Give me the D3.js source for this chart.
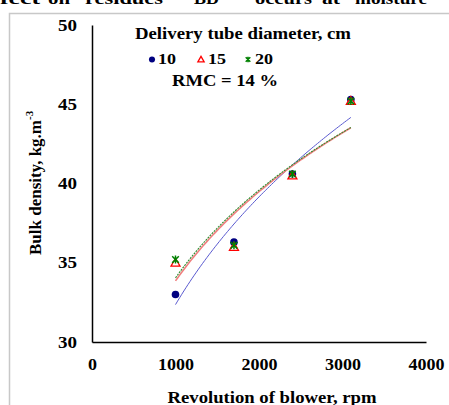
<!DOCTYPE html>
<html><head><meta charset="utf-8">
<script src="https://cdn.jsdelivr.net/npm/d3@7"></script>
<style>body{margin:0;background:#fff}svg{display:block}svg text{font-family:"Liberation Serif",Tinos,"Times New Roman",Times,serif !important;font-weight:bold;fill:#000}</style>
</head><body>
<script>
const rpm = [1000, 1700, 2400, 3100];
const series10 = [33.0, 36.3, 40.6, 45.3];
const series15 = [35.0, 36.0, 40.5, 45.2];
const series20 = [35.2, 36.1, 40.6, 45.2];
const seriesNames = ["10", "15", "20"];
const xTicks = [0, 1000, 2000, 3000, 4000];
const yTicks = [30, 35, 40, 45, 50];
const topWords = ["fect", "on", "residues", "\u201CBD\u201D", "occurs", "at", "moisture"];

const W = 449, H = 405;
const svg = d3.select("body").append("svg").attr("width", W).attr("height", H);

// cropped caption text at the top
const wordPos = [[0,40],[48,70],[85,163],[185,228],[255,312],[322,340],[355,427]];
topWords.forEach((w, i) => {
  svg.append("text").attr("x", wordPos[i][0]).attr("y", 4).attr("font-size", 17)
    .attr("textLength", wordPos[i][1] - wordPos[i][0]).attr("lengthAdjust", "spacingAndGlyphs").text(w);
});

// frame
svg.append("path").attr("d", "M9.5,405V13.5H449").attr("fill", "none").attr("stroke", "#c8c8c8").attr("stroke-width", 1.5);

const x = d3.scaleLinear().domain([0, 4000]).range([92, 426]);
const y = d3.scaleLinear().domain([30, 50]).range([342, 25]);

// axes
const xAxis = svg.append("g").attr("transform", "translate(0,342)")
  .call(d3.axisBottom(x).tickValues(xTicks).tickSize(0).tickPadding(17).tickFormat(d3.format("d")));
xAxis.attr("font-family", null);
xAxis.select(".domain").attr("stroke", "#000").attr("stroke-width", 1.5);
xAxis.selectAll("text").attr("font-size", 16)
  .attr("textLength", d => String(d).length * 9).attr("lengthAdjust", "spacingAndGlyphs");

const yAxis = svg.append("g").attr("transform", "translate(92,0)")
  .call(d3.axisLeft(y).tickValues(yTicks).tickSize(0).tickPadding(15).tickFormat(d3.format("d")));
yAxis.attr("font-family", null);
yAxis.select(".domain").attr("stroke", "#000").attr("stroke-width", 1.5);
yAxis.selectAll("text").attr("font-size", 16)
  .attr("textLength", 19).attr("lengthAdjust", "spacingAndGlyphs");

// axis titles
svg.append("text").attr("x", 272).attr("y", 403).attr("text-anchor", "middle").attr("font-size", 16)
  .attr("textLength", 209).attr("lengthAdjust", "spacingAndGlyphs").text("Revolution of blower, rpm");
const yt = svg.append("text").attr("transform", "translate(41,255) rotate(-90)").attr("font-size", 16);
yt.append("tspan").attr("textLength", 135).attr("lengthAdjust", "spacingAndGlyphs").text("Bulk density, kg.m");
yt.append("tspan").attr("dy", -8).attr("font-size", 11).text("-3");

// power trend fit (least squares in log-log space)
function powerFit(xs, ys) {
  const lx = xs.map(Math.log), ly = ys.map(Math.log);
  const mx = d3.mean(lx), my = d3.mean(ly);
  const b = d3.sum(lx, (v, i) => (v - mx) * (ly[i] - my)) / d3.sum(lx, v => (v - mx) ** 2);
  const a = Math.exp(my - b * mx);
  return v => a * Math.pow(v, b);
}
const samples = d3.range(rpm[0], rpm[rpm.length - 1] + 1, 25);
const line = d3.line().x(d => x(d[0])).y(d => y(d[1]));
const data = [series10, series15, series20];
const trendStyles = [
  {stroke: "#5a5ad0", w: 1, dash: null},
  {stroke: "#f08080", w: 1.6, dash: null},
  {stroke: "#2e8b2e", w: 1.1, dash: "2,1"}
];
data.forEach((s, i) => {
  const f = powerFit(rpm, s);
  svg.append("path").datum(samples.map(v => [v, f(v)])).attr("d", line)
    .attr("fill", "none").attr("stroke", trendStyles[i].stroke).attr("stroke-width", trendStyles[i].w)
    .attr("stroke-dasharray", trendStyles[i].dash);
});

// markers
function drawMarker(g, k, cx, cy, s) {
  if (k === 0) {
    g.append("circle").attr("cx", cx).attr("cy", cy).attr("r", 3.8 * s).attr("fill", "#000080");
  } else if (k === 1) {
    const r = 4.5 * s;
    g.append("path").attr("d", `M${cx},${cy - r}L${cx + r},${cy + r * 0.75}L${cx - r},${cy + r * 0.75}Z`)
      .attr("fill", "#fff").attr("fill-opacity", 0.6).attr("stroke", "#ff0000").attr("stroke-width", 1.3);
  } else {
    const r = 3.3 * s;
    g.append("path").attr("d", `M${cx - r},${cy - r}L${cx + r},${cy + r}M${cx + r},${cy - r}L${cx - r},${cy + r}M${cx},${cy - r * 1.2}V${cy + r * 1.2}`)
      .attr("fill", "none").attr("stroke", "#008000").attr("stroke-width", 1.5);
  }
}
const mg = svg.append("g");
data.forEach((s, k) => {
  s.forEach((v, j) => drawMarker(mg, k, x(rpm[j]), y(v), 1));
});

// legend
svg.append("text").attr("x", 135).attr("y", 39).attr("font-size", 16)
  .attr("textLength", 216).attr("lengthAdjust", "spacingAndGlyphs").text("Delivery tube diameter, cm");
const legX = [152, 201, 248];
const legTX = [158, 208, 255];
seriesNames.forEach((n, k) => {
  drawMarker(svg, k, legX[k], 59.5, k === 0 ? 0.8 : 0.7);
  svg.append("text").attr("x", legTX[k]).attr("y", 64).attr("font-size", 14)
    .attr("textLength", 18).attr("lengthAdjust", "spacingAndGlyphs").text(n);
});
svg.append("text").attr("x", 172).attr("y", 86).attr("font-size", 16)
  .attr("textLength", 106).attr("lengthAdjust", "spacingAndGlyphs").text("RMC = 14 %");
</script>
</body></html>
